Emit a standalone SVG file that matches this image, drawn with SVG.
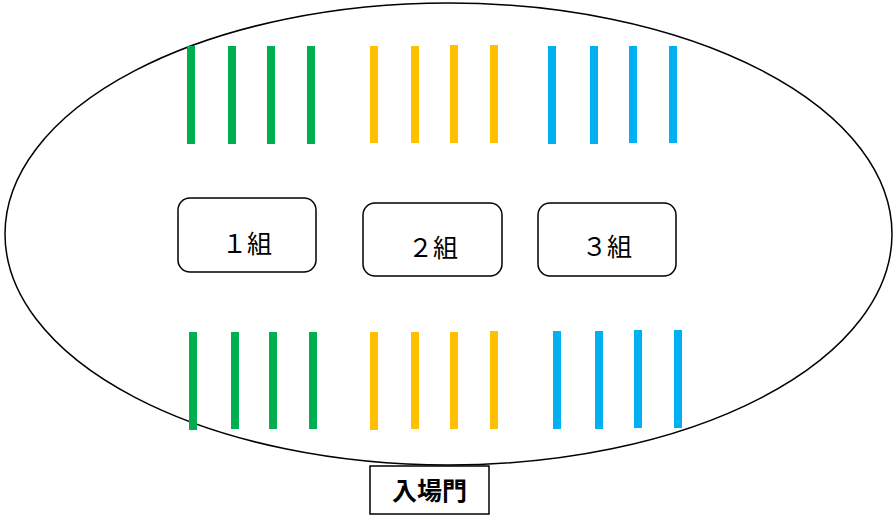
<svg xmlns="http://www.w3.org/2000/svg" width="893" height="515" viewBox="0 0 893 515">
<style>
.g{stroke:#00B050;stroke-width:8}
.y{stroke:#FFC000;stroke-width:8}
.b{stroke:#00B0F0;stroke-width:8}
.box{fill:#fff;stroke:#000;stroke-width:1.5}
.t{font-family:"Noto Sans CJK JP","Liberation Sans",sans-serif;font-size:25px;text-anchor:middle}
</style>
<ellipse cx="448.5" cy="234" rx="443.5" ry="231" fill="#fff" stroke="#000" stroke-width="1.5"/>
<g id="lanes">
<line class="g" x1="191" y1="46" x2="191" y2="144"/>
<line class="g" x1="232" y1="46" x2="232" y2="144"/>
<line class="g" x1="271" y1="46" x2="271" y2="144"/>
<line class="g" x1="311" y1="46" x2="311" y2="144"/>
<line class="y" x1="374" y1="46" x2="374" y2="143"/>
<line class="y" x1="415" y1="46" x2="415" y2="143"/>
<line class="y" x1="454" y1="45" x2="454" y2="143"/>
<line class="y" x1="494" y1="45" x2="494" y2="143"/>
<line class="b" x1="552" y1="46" x2="552" y2="144"/>
<line class="b" x1="594" y1="46" x2="594" y2="144"/>
<line class="b" x1="633" y1="46" x2="633" y2="143"/>
<line class="b" x1="673" y1="46" x2="673" y2="143"/>
<line class="g" x1="193" y1="332" x2="193" y2="430"/>
<line class="g" x1="235" y1="332" x2="235" y2="429"/>
<line class="g" x1="273" y1="332" x2="273" y2="429"/>
<line class="g" x1="313" y1="332" x2="313" y2="429"/>
<line class="y" x1="374" y1="332" x2="374" y2="430"/>
<line class="y" x1="415" y1="332" x2="415" y2="429"/>
<line class="y" x1="454" y1="332" x2="454" y2="429"/>
<line class="y" x1="494" y1="331" x2="494" y2="429"/>
<line class="b" x1="557" y1="331" x2="557" y2="429"/>
<line class="b" x1="599" y1="331" x2="599" y2="429"/>
<line class="b" x1="638" y1="330" x2="638" y2="428"/>
<line class="b" x1="678" y1="330" x2="678" y2="428"/>
</g>
<g id="class1">
<rect class="box" x="178" y="198" width="138" height="74" rx="12"/>
<text class="t" x="247" y="253">１組</text>
</g>
<g id="class2">
<rect class="box" x="363" y="203" width="139" height="73" rx="12"/>
<text class="t" x="433" y="257">２組</text>
</g>
<g id="class3">
<rect class="box" x="538" y="203" width="138" height="73" rx="12"/>
<text class="t" x="607" y="256">３組</text>
</g>
<g id="gate">
<rect x="370" y="466" width="119" height="48" fill="#fff" stroke="#000" stroke-width="1.5"/>
<text class="t" x="429.5" y="500" font-weight="bold">入場門</text>
</g>
</svg>
